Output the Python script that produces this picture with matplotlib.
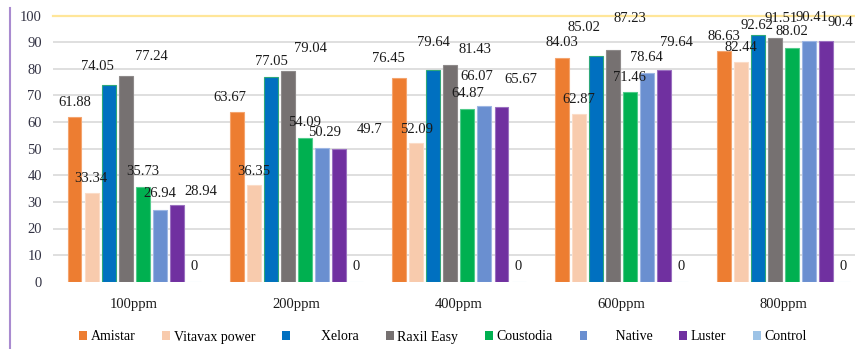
"""Grouped bar chart of inhibition (%) per fungicide at five concentrations."""

import numpy as np
import matplotlib.pyplot as plt
from matplotlib.patches import Patch
from matplotlib.lines import Line2D

plt.rcParams['font.family'] = ['Liberation Serif', 'DejaVu Serif']

categories = ['100ppm', '200ppm', '400ppm', '600ppm', '800ppm']
series_names = ['Amistar', 'Vitavax power', 'Xelora', 'Raxil Easy',
                'Coustodia', 'Native', 'Luster', 'Control']
legend_labels = ['Amistar', 'Vitavax power', '        Xelora', 'Raxil Easy',
                 'Coustodia', '       Native', 'Luster', 'Control']

amistar = [61.88, 63.67, 76.45, 84.03, 86.63]
vitavax = [33.34, 36.35, 52.09, 62.87, 82.44]
xelora = [74.05, 77.05, 79.64, 85.02, 92.62]
raxil = [77.24, 79.04, 81.43, 87.23, 91.51]
coustodia = [35.73, 54.09, 64.87, 71.46, 88.02]
native = [26.94, 50.29, 66.07, 78.64, 90.41]
luster = [28.94, 49.7, 65.67, 79.64, 90.4]
control = [0, 0, 0, 0, 0]

series = [amistar, vitavax, xelora, raxil, coustodia, native, luster, control]
colors = ['#ED7D31', '#F8CBAD', '#0070C0', '#767171',
          '#00B050', '#6A8FD0', '#7030A0', '#9DC3E6']
edges = ['#F4A46E', '#FBDCC7', '#2FA87A', '#8E8A8A',
         '#4FCB8A', '#9DB6E3', '#9A70C0', '#C5DDF1']

# label nudges (pixels) as the labels sit in the original chart: [series][group]
label_dx = [[0, -7, -11, 0, 0],
            [-1, 0, 0, 0, 0],
            [-11, 0, 0, -12, -1],
            [26, 22, 25, 17, 6],
            [0, 0, 0, 0, 0],
            [0, 2, -8, 0, 3],
            [24, 30, 19, 13, 14],
            [0, 0, 0, 0, 0]]
label_dy = [[15, 15, 20, 16, 15],
            [15, 14, 14, 15, 15],
            [18, 15, 27, 28, 10],
            [20, 23, 16, 31, 20],
            [15, 15, 16, 14, 16],
            [17, 15, 29, 15, 24],
            [13, 20, 28, 27, 19],
            [15, 15, 15, 15, 15]]


def main():
    fig = plt.figure(figsize=(8.55, 3.49), dpi=100, facecolor='white')
    ax = fig.add_axes([53 / 855, 1 - 281.7 / 349, 1 - 53 / 855, (281.7 - 15.7) / 349])

    x = np.arange(len(categories))
    pitch = 0.105
    width = 0.086
    px_to_pt = 72 / 100
    for k, (vals, c, ec) in enumerate(zip(series, colors, edges)):
        pos = x + (k - 3.5) * pitch
        ax.bar(pos, vals, width, color=c, edgecolor=ec, linewidth=0.8, zorder=3)
        for g, (px, v) in enumerate(zip(pos, vals)):
            ax.annotate(f'{v:g}', (px, v),
                        xytext=(label_dx[k][g] * px_to_pt, label_dy[k][g] * px_to_pt),
                        textcoords='offset points', ha='center', va='center',
                        fontsize=10.5, color='#1a1a1a', zorder=4,
                        annotation_clip=False)

    ax.set_ylim(0, 100)
    ax.set_xlim(-0.5, 4.44)
    ax.set_yticks(np.arange(0, 101, 10))
    ax.set_xticks(x)
    ax.set_xticklabels(categories)
    ax.tick_params(axis='y', length=0, pad=8, labelsize=10.5, labelcolor='#333344')
    ax.tick_params(axis='x', length=0, pad=12, labelsize=10.5, labelcolor='#1a1a1a')
    for s in ax.spines.values():
        s.set_visible(False)
    for t in range(10, 100, 10):
        ax.axhline(t, color='#D9D9D9', linewidth=1.2, zorder=1)
    ax.axhline(100, color='#FFE699', linewidth=1.6, zorder=1, clip_on=False)

    # purple frame line on the left
    fig.add_artist(Line2D([10 / 855, 10 / 855], [0, 1 - 8 / 349],
                          color='#A98BD0', linewidth=1.5))

    handles = [Patch(facecolor=c, edgecolor='none') for c in colors]
    fig.legend(handles, legend_labels, loc='center', ncol=8,
               bbox_to_anchor=(443 / 855, 1 - 337 / 349), frameon=False,
               fontsize=10, handlelength=0.55, handleheight=0.55,
               handletextpad=0.25, columnspacing=1.95, borderpad=0)

    fig.savefig('out.png', dpi=100, facecolor='white')


if __name__ == '__main__':
    main()
